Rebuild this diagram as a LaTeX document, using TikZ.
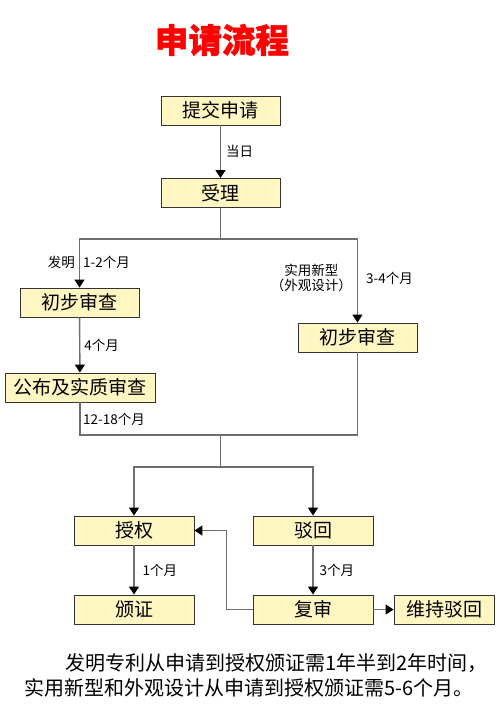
\documentclass[tikz,border=0pt]{standalone}
\usepackage{fontspec}
\setmainfont{Noto Sans CJK SC}
\usepackage{tikz}
\usetikzlibrary{positioning,arrows.meta}
\definecolor{boxfill}{HTML}{FFF6C2}
\definecolor{linegray}{HTML}{6E6E6E}
\tikzset{main node/.style={rectangle,fill=boxfill,draw=black!80,line width=0.9pt,minimum width=119pt,minimum height=29pt,inner sep=0pt,font=\fontsize{19}{19}\selectfont},
         flow/.style={draw=linegray,line width=1.4pt,-{Triangle[width=10pt,length=8pt,black]}},
         link/.style={draw=linegray,line width=1.4pt},
         time/.style={font=\fontsize{13.5}{15.5}\selectfont,inner sep=1pt},
         note/.style={anchor=west,font=\fontsize{20}{20}\selectfont,inner sep=0pt},
            }

\begin{document}
\begin{tikzpicture}[x=1pt,y=-1pt]
    \useasboundingbox (0,0) rectangle (499,709);

    \node[font=\fontsize{33.5}{33.5}\selectfont\bfseries\addfontfeatures{FakeBold=1.5},text=red] (title) at (222,40) {申请流程};

    \node[main node] (submit) at (220.5,110.5) {提交申请};
    \node[main node] (accept) at (220.5,193) {受理};
    \node[main node] (prelimL) at (79.5,302.5) {初步审查};
    \node[main node] (prelimR) at (357.5,337.5) {初步审查};
    \node[main node,minimum width=150pt] (publish) at (80,387.5) {公布及实质审查};
    \node[main node,minimum width=120pt] (grant) at (134,530.5) {授权};
    \node[main node,minimum width=120pt] (reject) at (313,530.5) {驳回};
    \node[main node,minimum width=120pt] (cert) at (134,609.5) {颁证};
    \node[main node,minimum width=120pt] (review) at (313,609.5) {复审};
    \node[main node,minimum width=100pt] (keep) at (444,609.5) {维持驳回};

    \coordinate (split) at (220.5,239);
    \coordinate (join) at (220.5,435);
    \coordinate (fork) at (220.5,467);

    \path[flow] (submit) -- node[time,right=4pt] {当日} (accept);
    \path[link] (accept) -- (split);
    \path[flow] (split) -| (prelimL);
    \path[flow] (split) -| (prelimR);
    \path[flow] (prelimL) -- node[time,right=3pt] {4个月} (publish);
    \path[link] (publish) |- (join);
    \path[link] (prelimR) |- (join);
    \path[link] (join) -- (fork);
    \path[flow] (fork) -| (grant);
    \path[flow] (fork) -| (reject);
    \path[flow] (grant) -- node[time,right=7pt] {1个月} (cert);
    \path[flow] (reject) -- node[time,right=5pt] {3个月} (review);
    \path[flow] (review) -- (keep);
    \path[flow] (review.west) -- ++(-26,0) |- (grant.east);

    \node[time,anchor=east] (inv) at (76,262) {发明};
    \node[time,anchor=west] (invtime) at (82,262) {1-2个月};
    \node[time,anchor=east,align=center] (util) at (353,278) {实用新型\\（外观设计）};
    \node[time,anchor=west] (utiltime) at (365,278) {3-4个月};
    \node[time,anchor=west] (pubtime) at (82,419) {12-18个月};

    \node[note] (note1) at (65,663) {发明专利从申请到授权颁证需1年半到2年时间，};
    \node[note] (note2) at (24,688) {实用新型和外观设计从申请到授权颁证需5-6个月。};
\end{tikzpicture}
\end{document}
